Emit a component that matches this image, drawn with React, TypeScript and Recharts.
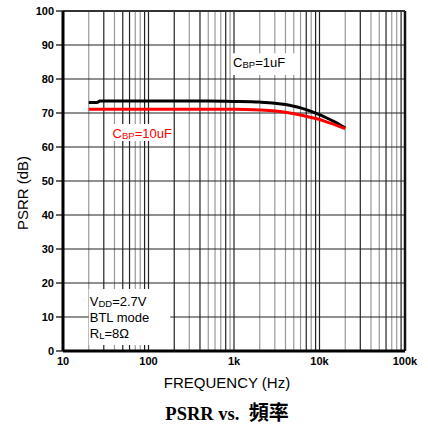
import { LineChart, Line, XAxis, YAxis, ReferenceLine, ReferenceArea, Label } from 'recharts'

// PSRR vs frequency, two bypass capacitor values
const freqs = [20, 25, 27, 50, 100, 200, 500, 1000, 2000, 3000, 4000, 5000, 6000, 8000, 10000, 12000, 15000, 20000]
const cbp1uF = [73.1, 73.1, 73.5, 73.5, 73.5, 73.5, 73.5, 73.4, 73.2, 72.9, 72.5, 72.0, 71.5, 70.5, 69.5, 68.6, 67.4, 65.6]
const cbp10uF = [71.1, 71.1, 71.1, 71.1, 71.1, 71.1, 71.1, 71.1, 70.9, 70.6, 70.2, 69.8, 69.4, 68.7, 68.1, 67.4, 66.6, 65.4]

const yTicks = [0, 10, 20, 30, 40, 50, 60, 70, 80, 90, 100]
const xTicks = [10, 100, 1000, 10000, 100000]
const xTickLabels = ['10', '100', '1k', '10k', '100k']

const data = freqs.map((f, i) => ({ f, c1: cbp1uF[i], c10: cbp10uF[i] }))

// log grid: 2..9 inside each decade plus the decade lines
const decades = [10, 100, 1000, 10000]
const minorSteps = [2, 3, 4, 5, 6, 7, 8, 9]
const gridFreqs = decades.flatMap((d) => minorSteps.map((m) => m * d)).concat([100, 1000, 10000])
const darkGrid = new Set([30, 50, 60, 90, 100, 200, 400, 800, 1000, 7000, 9000, 10000, 30000, 60000, 90000])

const FONT = '"Liberation Sans", Arial, sans-serif'
const SERIF = '"Liberation Serif", "Times New Roman", serif'

const Sub = ({ base, sub, rest }: { base: string; sub: string; rest: string }) => (
  <>
    <tspan>{base}</tspan>
    <tspan fontSize={9.5} dy={1}>{sub}</tspan>
    <tspan dy={-1}>{rest}</tspan>
  </>
)

export default function App() {
  return (
    <div style={{ position: 'absolute', left: 0, top: 0, background: '#fff' }}>
      <LineChart
        width={428}
        height={430}
        data={data}
        margin={{ top: 11, right: 23, bottom: 0, left: 0 }}
        style={{ fontFamily: FONT }}
      >
        {gridFreqs.map((f) => (
          <ReferenceLine key={f} x={f} stroke={darkGrid.has(f) ? '#222' : '#999'} strokeWidth={1.2} zIndex={-50} />
        ))}
        {yTicks.slice(1, -1).map((v) => (
          <ReferenceLine key={'h' + v} y={v} stroke="#222" strokeWidth={1.1} zIndex={-50} />
        ))}
        <ReferenceLine x={100000} stroke="#111" strokeWidth={2.5} />
        <ReferenceLine y={100} stroke="#333" strokeWidth={2} />

        <ReferenceArea x1={20} x2={180} y1={1.8} y2={18.2} fill="#fff" fillOpacity={1} stroke="none" zIndex={300}>
          <Label
            zIndex={300}
            content={(p: any) => {
              const { x, y } = p.viewBox
              return (
                <text x={x + 1} fontSize={13} fill="#000" fontFamily={FONT}>
                  <tspan x={x + 1} y={y + 17}>
                    <Sub base="V" sub="DD" rest="=2.7V" />
                  </tspan>
                  <tspan x={x + 1} y={y + 33}>BTL mode</tspan>
                  <tspan x={x + 1} y={y + 49}>
                    <Sub base="R" sub="L" rest="=8Ω" />
                  </tspan>
                </text>
              )
            }}
          />
        </ReferenceArea>
        <ReferenceArea x1={950} x2={5300} y1={81.2} y2={87.6} fill="#fff" fillOpacity={1} stroke="none" zIndex={300}>
          <Label
            zIndex={300}
            content={(p: any) => {
              const { x, y } = p.viewBox
              return (
                <text x={x + 1} y={y + 14} fontSize={13} fill="#000" fontFamily={FONT}>
                  <Sub base="C" sub="BP" rest="=1uF" />
                </text>
              )
            }}
          />
        </ReferenceArea>
        <ReferenceArea x1={37} x2={190} y1={61.8} y2={66.8} fill="#fff" fillOpacity={1} stroke="none" zIndex={300}>
          <Label
            zIndex={300}
            content={(p: any) => {
              const { x, y } = p.viewBox
              return (
                <text x={x + 1} y={y + 14} fontSize={13} fill="#ff0000" fontFamily={FONT}>
                  <Sub base="C" sub="BP" rest="=10uF" />
                </text>
              )
            }}
          />
        </ReferenceArea>

        <XAxis
          dataKey="f"
          type="number"
          scale="log"
          domain={[10, 100000]}
          ticks={xTicks}
          allowDataOverflow
          height={79}
          tickSize={0}
          tickMargin={6}
          tickFormatter={(v) => xTickLabels[xTicks.indexOf(v)] ?? ''}
          tick={{ fill: '#000', fontSize: 11, fontWeight: 'bold', fontFamily: FONT }}
          axisLine={{ stroke: '#000', strokeWidth: 3 }}
          label={(p: any) => {
            const { x, y, width } = p.viewBox
            const cx = x + width / 2 - 7
            return (
              <g>
                <text x={cx} y={y + 37} textAnchor="middle" fontSize={15} fill="#000" fontFamily={FONT}>
                  FREQUENCY (Hz)
                </text>
                <text x={cx} y={y + 69} textAnchor="middle" fontWeight="bold" fill="#000" fontFamily={SERIF}>
                  <tspan fontSize={18.5}>PSRR vs.{'\u00a0\u00a0'}</tspan>
                  <tspan fontSize={20} fontFamily='"Noto Sans CJK TC", "Noto Sans CJK SC", sans-serif'>
                    頻率
                  </tspan>
                </text>
              </g>
            )
          }}
        />
        <YAxis
          type="number"
          domain={[0, 100]}
          ticks={yTicks}
          width={63}
          tickSize={7}
          tickMargin={2}
          tick={{ fill: '#000', fontSize: 11, fontWeight: 'bold', fontFamily: FONT }}
          tickLine={{ stroke: '#000', strokeWidth: 1.2 }}
          axisLine={{ stroke: '#000', strokeWidth: 3 }}
          label={(p: any) => {
            const { y, height } = p.viewBox
            const cy = y + height / 2 + 12
            return (
              <text
                x={22}
                y={cy}
                transform={`rotate(-90 22 ${cy})`}
                textAnchor="middle"
                dominantBaseline="central"
                fontSize={15}
                fill="#000"
                fontFamily={FONT}
              >
                PSRR (dB)
              </text>
            )
          }}
        />

        <Line type="monotone" dataKey="c1" stroke="#000" strokeWidth={3} dot={false} isAnimationActive={false} zIndex={500} />
        <Line type="monotone" dataKey="c10" stroke="#ff0000" strokeWidth={3} dot={false} isAnimationActive={false} zIndex={510} />
      </LineChart>
    </div>
  )
}
